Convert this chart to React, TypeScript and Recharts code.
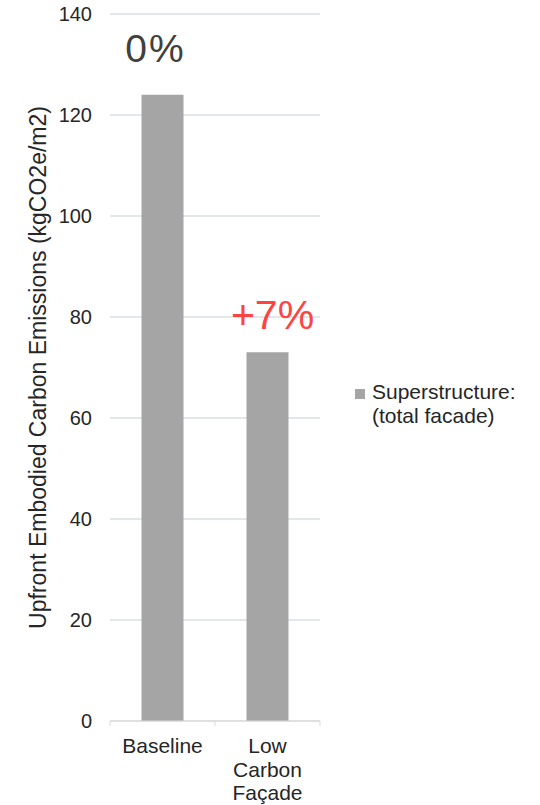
import React from 'react';
import { BarChart, Bar, XAxis, YAxis, CartesianGrid, Legend, LabelList } from 'recharts';

// Scenario categories and the superstructure (total facade) emissions for each
const categories = ['Baseline', 'Low Carbon Façade'];
const superstructure = [124, 73];
const changeLabels = ['0%', '+7%'];
const yTicks = [0, 20, 40, 60, 80, 100, 120, 140];
const seriesLines = ['Superstructure:', '(total facade)'];

const data = categories.map((category, i) => ({
  category,
  value: superstructure[i],
  change: changeLabels[i],
}));

const FONT = '"Liberation Sans", Arial, sans-serif';
const BAR_COLOR = '#a5a5a5';
const GRID_COLOR = '#dadfe5';

// Placement of the large change annotations relative to each bar top
const annotationNudge = [
  { dx: -7, dy: -33 },
  { dx: 5, dy: -23 },
];

const ChangeLabel = (props: any) => {
  const { x, y, width, index, value } = props;
  const nudge = annotationNudge[index] || { dx: 0, dy: -20 };
  const positive = String(value).startsWith('+');
  return (
    <text
      x={Number(x) + Number(width) / 2 + nudge.dx}
      y={Number(y) + nudge.dy}
      textAnchor="middle"
      fontFamily={FONT}
      fontSize={positive ? 41 : 39}
      letterSpacing={positive ? 0 : 2}
      fill={positive ? '#ff4343' : '#404040'}
    >
      {value}
    </text>
  );
};

// Category label broken into one word per line, with tick marks at the band edges
const CategoryTick = (props: any) => {
  const { x, y, payload, index, visibleTicksCount } = props;
  const half = payload && payload.offset ? payload.offset : 0;
  const words = String(payload.value).split(' ');
  const lines = words.length > 1 ? words : [payload.value];
  return (
    <g>
      <line x1={x - half} x2={x - half} y1={y} y2={y + 5} stroke="#d9d9d9" strokeWidth={1} />
      {index === visibleTicksCount - 1 && (
        <line x1={x + half} x2={x + half} y1={y} y2={y + 5} stroke="#d9d9d9" strokeWidth={1} />
      )}
      <text x={x} y={y + 32} textAnchor="middle" fontFamily={FONT} fontSize={21} fill="#262626">
        {lines.map((w: string, i: number) => (
          <tspan key={i} x={x} dy={i === 0 ? 0 : 23.5}>
            {w}
          </tspan>
        ))}
      </text>
    </g>
  );
};

const AxisTitle = (props: any) => {
  const { viewBox } = props;
  const cx = viewBox.x + 38;
  const cy = viewBox.y + viewBox.height / 2;
  return (
    <text
      x={cx}
      y={cy}
      transform={`rotate(-90 ${cx} ${cy})`}
      textAnchor="middle"
      dominantBaseline="central"
      fontFamily={FONT}
      fontSize={23}
      fill="#262626"
    >
      Upfront Embodied Carbon Emissions (kgCO2e/m2)
    </text>
  );
};

const SeriesLegend = () => (
  <div style={{ display: 'flex', fontFamily: FONT, fontSize: 21, lineHeight: '24px', color: '#262626' }}>
    <div style={{ width: 10, height: 10, background: BAR_COLOR, marginTop: 9, marginRight: 7, flex: 'none' }} />
    <div>
      {seriesLines.map((l) => (
        <div key={l}>{l}</div>
      ))}
    </div>
  </div>
);

export default function App() {
  return (
    <div style={{ position: 'absolute', left: 0, top: 0, background: '#fff' }}>
      <BarChart
        width={540}
        height={805}
        data={data}
        margin={{ top: 14, right: 220, bottom: 0, left: 0 }}
        barCategoryGap="30%"
      >
        <CartesianGrid horizontal vertical={false} stroke={GRID_COLOR} strokeWidth={1.5} />
        <XAxis
          dataKey="category"
          height={84}
          axisLine={{ stroke: '#d9d9d9' }}
          tickLine={false}
          tickSize={0}
          tickMargin={0}
          tick={<CategoryTick />}
          interval={0}
        />
        <YAxis
          width={110}
          domain={[0, 140]}
          ticks={yTicks}
          axisLine={false}
          tickLine={false}
          tickMargin={12}
          tick={{ fontFamily: FONT, fontSize: 20, fill: '#262626' }}
          label={<AxisTitle />}
        />
        <Legend
          layout="vertical"
          align="center"
          verticalAlign="middle"
          content={<SeriesLegend />}
          wrapperStyle={{ position: 'absolute', left: 355, top: 380, width: 180 }}
        />
        <Bar dataKey="value" name="Superstructure: (total facade)" fill={BAR_COLOR} isAnimationActive={false}>
          <LabelList dataKey="change" content={<ChangeLabel />} />
        </Bar>
      </BarChart>
    </div>
  );
}
